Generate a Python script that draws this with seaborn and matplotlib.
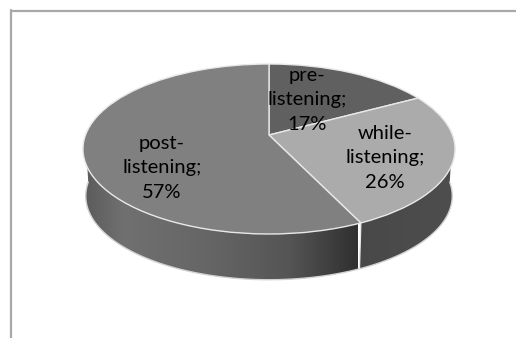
import numpy as np
import matplotlib
matplotlib.use("Agg")
import matplotlib.pyplot as plt
import seaborn as sns
from matplotlib.path import Path
from matplotlib.patches import PathPatch
from matplotlib.transforms import Transform
from matplotlib.colors import LinearSegmentedColormap
from matplotlib.lines import Line2D

categories = ["pre-listening", "while-listening", "post-listening"]
shares = [17, 26, 57]
labels = ["pre-\nlistening;\n17%", "while-\nlistening;\n26%", "post-\nlistening;\n57%"]
top_colors = ["#606060", "#ababab", "#808080"]

sns.set_theme(style="white")
plt.rcParams["font.family"] = ["Lato", "DejaVu Sans"]

K, A, B, T = 0.1647, 183.5, 85.0, 14.0
CX, CY, DEPTH = 269.0, 149.0, 47.0
BOTTOM_SCALE = 0.985


def project(x, y, drop=0.0, scale=1.0):
    w = 1 + K * y
    return CX + scale * A * x / w, CY + drop - scale * (B * y + T) / w


class TiltTransform(Transform):
    input_dims = output_dims = 2
    is_affine = False
    has_inverse = False

    def transform_non_affine(self, values):
        values = np.asarray(values, dtype=float)
        return np.column_stack(project(values[:, 0], values[:, 1]))


def rim(t1, t2, n=80):
    t = np.radians(np.linspace(t1, t2, n))
    return np.cos(t), np.sin(t)


fig = plt.figure(figsize=(5.16, 3.38), dpi=100, facecolor="white")
ax = fig.add_axes([0, 0, 1, 1])

palette = sns.color_palette(top_colors)
wedges, _ = ax.pie(shares, colors=palette, startangle=90, counterclock=False,
                   radius=1, wedgeprops=dict(edgecolor="#e8e8e8", linewidth=1.0))
tilt = TiltTransform() + ax.transData
for w in wedges:
    w.set_transform(tilt)
    w.set_zorder(5)

ax.set_aspect("auto")
ax.set_xlim(0, 516)
ax.set_ylim(338, 0)
ax.axis("off")


def side_patch(t1, t2, lo, hi, stops):
    cx, cy = rim(t1, t2)
    tx, ty = project(cx, cy)
    bx, by = project(cx, cy, DEPTH, BOTTOM_SCALE)
    verts = np.vstack([np.column_stack([tx, ty]), np.column_stack([bx, by])[::-1], [[tx[0], ty[0]]]])
    codes = [Path.MOVETO] + [Path.LINETO] * (len(verts) - 2) + [Path.CLOSEPOLY]
    patch = PathPatch(Path(verts, codes), facecolor="none", edgecolor="none", transform=ax.transData)
    ax.add_patch(patch)
    cmap = LinearSegmentedColormap.from_list("side", stops)
    im = ax.imshow(np.linspace(0, 1, 256)[None, :], extent=(lo, hi, 338, 0), aspect="auto",
                   cmap=cmap, vmin=0, vmax=1, zorder=2)
    im.set_clip_path(patch)
    ax.plot(bx, by, color="#d2d2d2", lw=1.0, zorder=3)
    return tx, ty, bx, by


ends = 90 - np.cumsum(shares) * 3.6
# while-listening wall: visible part from the rim's right end to the slice end
side_patch(ends[1], 0, 352, 456, [(0, "#484848"), (1, "#4e4e4e")])
# post-listening wall: visible part from the rim's left end to the slice end
tx, ty, bx, by = side_patch(-180, ends[1], 82, 358,
                            [(0, "#5a5a5a"), (0.15, "#707070"), (0.45, "#666666"),
                             (0.75, "#555555"), (1, "#303030")])
ax.plot([tx[-1], bx[-1]], [ty[-1], by[-1]], color="#e8e8e8", lw=1.0, zorder=4)

ax.set_xlim(0, 516)
ax.set_ylim(338, 0)

positions = [(307, 100), (385, 158), (162, 168)]
for text, (x, y) in zip(labels, positions):
    ax.text(x, y, text, ha="center", va="center", fontsize=14.5, color="#000000",
            linespacing=1.52, zorder=6)

fig.add_artist(Line2D([11, 11], [0, 328], transform=None, color="#a8a8a8", lw=1.6))
fig.add_artist(Line2D([10.5, 516], [327.5, 327.5], transform=None, color="#a8a8a8", lw=1.6))

fig.savefig("out.png", dpi=100, facecolor="white")
